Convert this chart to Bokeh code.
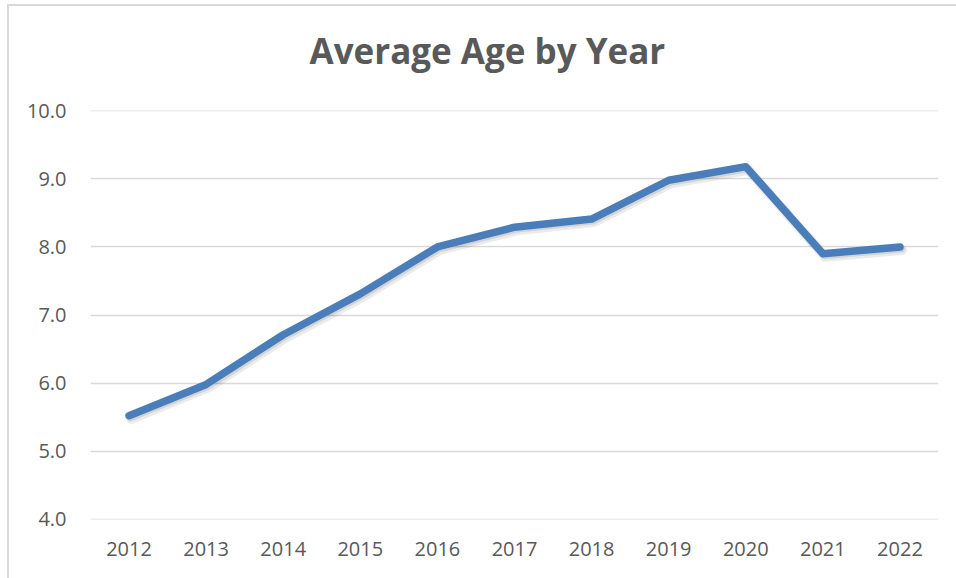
from bokeh.plotting import figure
from bokeh.models import (ColumnDataSource, FactorRange, Range1d, FixedTicker,
                          NumeralTickFormatter, Title, InlineStyleSheet)
from bokeh.transform import dodge
from bokeh.embed import file_html
from bokeh.resources import INLINE

title_text = "Average Age by Year"
years = ["2012", "2013", "2014", "2015", "2016", "2017", "2018", "2019", "2020", "2021", "2022"]
avg_age = [5.52, 5.98, 6.71, 7.31, 8.0, 8.29, 8.41, 8.98, 9.18, 7.9, 8.0]
y_ticks = [4, 5, 6, 7, 8, 9, 10]
y_min, y_max = 4, 10

source = ColumnDataSource(data=dict(year=years, age=avg_age))

p = figure(
    frame_width=848, frame_height=409,
    x_range=FactorRange(*years),
    y_range=Range1d(y_min - 0.005, y_max + 0.005),
    output_backend="svg",
    toolbar_location=None,
    min_border_left=90, min_border_right=18, min_border_bottom=59, min_border_top=110,
)
p.title = None

# faint chart-area border (left and top edges, as in the reference)
p.stylesheets = [InlineStyleSheet(css=":host::after { content: ''; position: absolute; left: 7px; top: 4px; right: 0; bottom: 0; border-left: 2px solid #d9d9d9; border-top: 2px solid #d9d9d9; pointer-events: none; }")]

p.outline_line_color = None
p.background_fill_color = "white"
p.border_fill_color = "white"

p.xgrid.grid_line_color = None
p.ygrid.grid_line_color = "#d9d9d9"
p.ygrid.grid_line_width = 1.3

p.yaxis.ticker = FixedTicker(ticks=y_ticks)
p.yaxis.formatter = NumeralTickFormatter(format="0.0")
for ax in (p.xaxis, p.yaxis):
    ax.axis_line_color = None
    ax.major_tick_line_color = None
    ax.minor_tick_line_color = None
    ax.major_tick_out = 0
    ax.major_tick_in = 0
    ax.major_label_text_font = "Open Sans"
    ax.major_label_text_font_size = "20px"
    ax.major_label_text_color = "#595959"
p.yaxis.major_label_standoff = 24
p.xaxis.major_label_standoff = 22

# spacer between title and frame, then the chart title
p.add_layout(Title(text=" ", text_font_size="1px", standoff=34), "above")
p.add_layout(Title(text=title_text, text_font="Open Sans", text_font_style="bold",
                   text_font_size="35px", text_color="#595959", align="left",
                   offset=219, standoff=0), "above")

# soft shadow
p.line(x=dodge("year", 0.03, range=p.x_range), y=dodge("age", -0.045), source=source,
       line_color="black", line_alpha=0.08, line_width=10, line_cap="round", line_join="round")
p.line(x=dodge("year", 0.02, range=p.x_range), y=dodge("age", -0.03), source=source,
       line_color="black", line_alpha=0.10, line_width=7, line_cap="round", line_join="round")
p.line(x="year", y="age", source=source, line_color="#4a7ebb", line_width=7.5,
       line_cap="round", line_join="round")

open("out.html", "w").write(file_html(p, INLINE))
